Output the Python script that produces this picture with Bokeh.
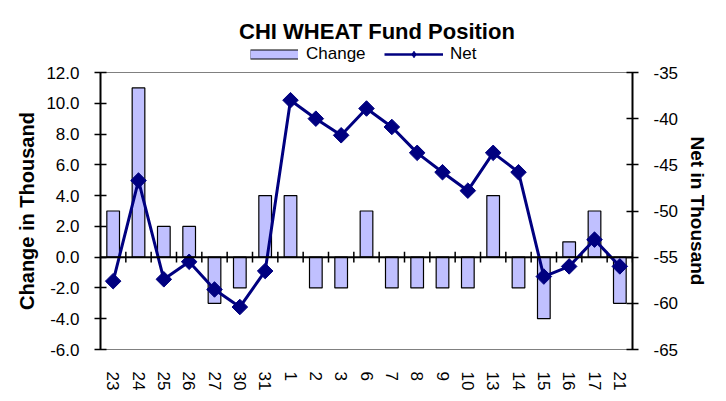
import math
from bokeh.plotting import figure
from bokeh.layouts import column
from bokeh.models import (Range1d, FactorRange, LinearAxis, FixedTicker, NumeralTickFormatter,
                          ColumnDataSource, Span, Legend, LegendItem, Label)
from bokeh.transform import dodge
from bokeh.embed import file_html
from bokeh.resources import INLINE

# ---- data ----
dates = ["23", "24", "25", "26", "27", "30", "31", "1", "2", "3", "6", "7", "8", "9",
         "10", "13", "14", "15", "16", "17", "21"]
change = [3, 11, 2, 2, -3, -2, 4, 4, -2, -2, 3, -2, -2, -2, -2, 4, -2, -4, 1, 3, -3]
net = [-57.6, -46.7, -57.4, -55.5, -58.5, -60.4, -56.5, -38.0, -40.0, -41.8, -38.9,
       -40.9, -43.7, -45.8, -47.8, -43.7, -45.8, -57.1, -56.0, -53.1, -56.0]
left_ticks = [-6, -4, -2, 0, 2, 4, 6, 8, 10, 12]
right_ticks = [-65, -60, -55, -50, -45, -40, -35]

FONT = "Liberation Sans"
BAR_FILL = "#C0C0FF"
NAVY = "#000080"
W = 718
HEAD_H = 64

src = ColumnDataSource(dict(date=dates, change=change, net=net))
xr = FactorRange(factors=dates, range_padding=0)

# ---------------- main chart ----------------
p = figure(width=W, height=393 - HEAD_H, x_range=xr,
           y_range=Range1d(left_ticks[0], left_ticks[-1]),
           output_backend="svg", toolbar_location=None,
           min_border_left=100, min_border_right=86, min_border_top=8, min_border_bottom=43)
p.extra_y_ranges = {"net": Range1d(right_ticks[0], right_ticks[-1])}
p.xgrid.visible = False
p.ygrid.visible = False
p.outline_line_color = "#808080"
p.outline_line_width = 1
p.background_fill_color = "white"
p.border_fill_color = "white"

ya = p.yaxis[0]
ya.ticker = FixedTicker(ticks=left_ticks)
ya.formatter = NumeralTickFormatter(format="0.0")
ya.axis_label = "Change in Thousand"

ra = LinearAxis(y_range_name="net", ticker=FixedTicker(ticks=right_ticks),
                formatter=NumeralTickFormatter(format="0"),
                axis_label="Net in Thousand")
p.add_layout(ra, "right")

for ax in (ya, ra):
    ax.axis_line_color = "black"
    ax.axis_line_width = 2
    ax.major_tick_line_color = "black"
    ax.major_tick_line_width = 1.5
    ax.major_tick_in = 6
    ax.major_tick_out = 6
    ax.minor_tick_line_color = None
    ax.major_label_text_font = FONT
    ax.major_label_text_font_size = "17px"
    ax.major_label_text_color = "black"
    ax.axis_label_text_font = FONT
    ax.axis_label_text_font_style = "bold"
    ax.axis_label_text_color = "black"
ya.axis_label_text_font_size = "20px"
ra.axis_label_text_font_size = "19px"
ya.major_label_standoff = 15
ya.axis_label_standoff = 5
ra.major_label_standoff = 15
ra.axis_label_standoff = 6

xa = p.xaxis[0]
xa.axis_line_color = None
xa.major_tick_line_color = None
xa.major_tick_in = 0
xa.major_tick_out = 0
xa.minor_tick_line_color = None
xa.major_label_orientation = "vertical"
xa.major_label_standoff = 22
xa.major_label_text_font = FONT
xa.major_label_text_font_size = "17px"
xa.major_label_text_color = "black"

p.vbar(x="date", top="change", bottom=0, width=0.5, source=src,
       fill_color=BAR_FILL, line_color="black", line_width=1.2)

p.add_layout(Span(location=0, dimension="width", line_color="black", line_width=2))
p.segment(x0=dodge("date", 0.5, range=xr), y0=-0.35,
          x1=dodge("date", 0.5, range=xr), y1=0.35,
          source=src, line_color="black", line_width=1.5)

p.line(x="date", y="net", y_range_name="net", source=src, line_color=NAVY, line_width=3)
p.scatter(x="date", y="net", y_range_name="net", source=src, marker="square",
          angle=math.pi / 4, size=11, fill_color=NAVY, line_color=NAVY)

# ---------------- header: title + legend ----------------
# shares the category axis; its y window lies far from the data, so the
# renderers below only serve as legend swatches
h = figure(width=W, height=HEAD_H, x_range=xr, y_range=Range1d(100, 100 + HEAD_H),
           x_axis_type=None, y_axis_type=None, output_backend="svg", toolbar_location=None,
           min_border_left=0, min_border_right=0, min_border_top=0, min_border_bottom=0)
h.xgrid.visible = False
h.ygrid.visible = False
h.outline_line_color = None
h.background_fill_color = "white"
h.border_fill_color = "white"

h.add_layout(Label(x=279.5, y=HEAD_H - 31, x_units="screen", y_units="screen",
                   text="CHI WHEAT  Fund Position", text_font=FONT, text_font_size="22px",
                   text_font_style="bold", text_align="center", text_baseline="middle",
                   text_color="black"))

sw_edge = h.line(x="date", y="change", source=src, line_color="black", line_width=10)
sw_fill = h.line(x="date", y="change", source=src, line_color=BAR_FILL, line_width=8)
sw_line = h.line(x="date", y="net", source=src, line_color=NAVY, line_width=2.5)
sw_mark = h.scatter(x="date", y="net", source=src, marker="diamond", size=12,
                    fill_color=NAVY, line_color=NAVY)

def add_legend(item, x, gw, standoff):
    lg = Legend(items=[item], location=(x, 0), orientation="horizontal",
                glyph_width=gw, glyph_height=16, label_height=16, label_standoff=standoff,
                padding=0, margin=0, spacing=0, border_line_color=None,
                background_fill_alpha=0, label_text_font=FONT,
                label_text_font_size="17px", label_text_color="black")
    h.add_layout(lg, "center")

add_legend(LegendItem(label="Change", renderers=[sw_edge, sw_fill]), 150, 48, 8)
add_legend(LegendItem(label="Net", renderers=[sw_line, sw_mark]), 284, 59, 7)

open("out.html", "w").write(file_html(column(h, p, spacing=0), INLINE))
